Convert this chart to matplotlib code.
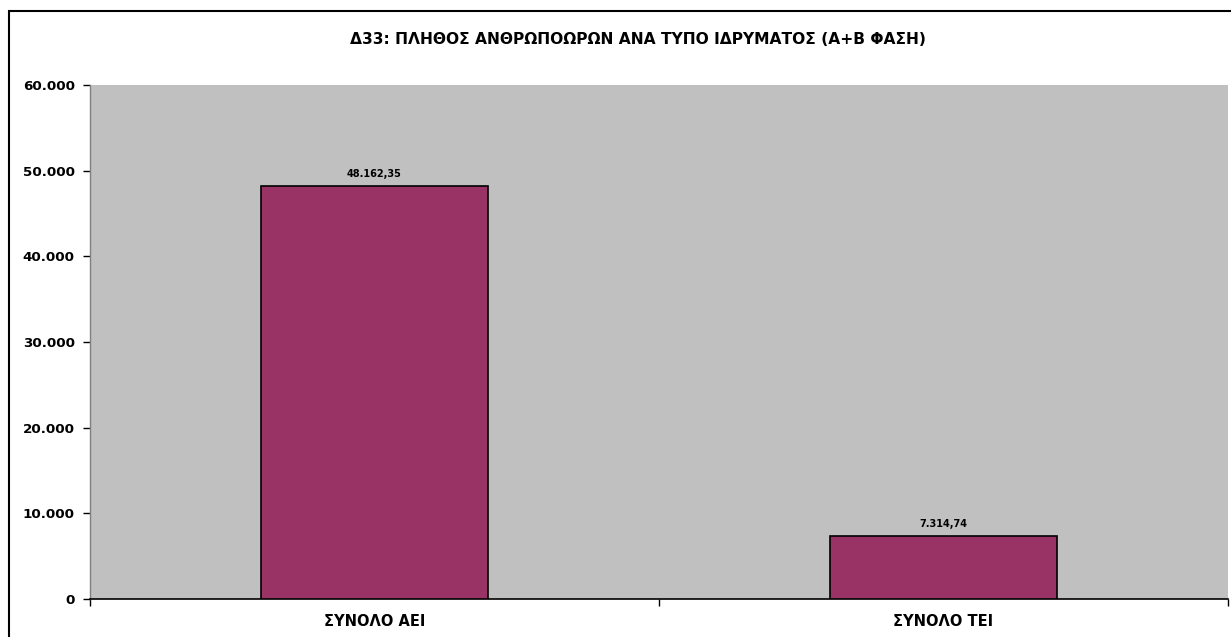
import matplotlib
matplotlib.use("Agg")
import matplotlib.pyplot as plt
from matplotlib.patches import Rectangle
from matplotlib.ticker import FuncFormatter, FixedLocator

categories = ["ΣΥΝΟΛΟ ΑΕΙ", "ΣΥΝΟΛΟ ΤΕΙ"]
values = [48162.35, 7314.74]
value_labels = ["48.162,35", "7.314,74"]
yticks = [0, 10000, 20000, 30000, 40000, 50000, 60000]
title = "Δ33: ΠΛΗΘΟΣ ΑΝΘΡΩΠΟΩΡΩΝ ΑΝΑ ΤΥΠΟ ΙΔΡΥΜΑΤΟΣ (Α+Β ΦΑΣΗ)"

plt.rcParams['font.family'] = ['DejaVu Sans']
plt.rcParams['font.weight'] = 'bold'

W, H = 1231, 637
fig = plt.figure(figsize=(W/100, H/100), dpi=100)
fig.patch.set_facecolor('white')

fig.patches.append(Rectangle((9/W, 1 - 700/H), (W+20)/W, (700-11)/H, transform=fig.transFigure,
                             fill=False, edgecolor='black', linewidth=1.5))

ax = fig.add_axes([90/W, 1 - 599/H, (1228-90)/W, (599-85)/H])
ax.set_facecolor('#C0C0C0')

x = list(range(len(categories)))
ax.bar(x, values, width=0.4, color='#993366', edgecolor='black', linewidth=1.2, zorder=3)
ax.set_xlim(-0.5, len(categories) - 0.5)
ax.set_ylim(0, 60000)

for xi, v, lab in zip(x, values, value_labels):
    ax.annotate(lab, (xi, v), xytext=(0, 5), textcoords='offset points',
                ha='center', va='bottom', fontsize=7, fontweight='bold')

ax.set_yticks(yticks)
ax.yaxis.set_major_formatter(FuncFormatter(lambda v, p: f"{int(v):,}".replace(",", ".")))
ax.tick_params(axis='y', direction='out', length=5, width=1, labelsize=9.7, pad=6)

ax.xaxis.set_major_locator(FixedLocator([-0.5, 0.5, 1.5]))
ax.xaxis.set_major_formatter(FuncFormatter(lambda v, p: ""))
ax.xaxis.set_minor_locator(FixedLocator(x))
ax.set_xticklabels(categories, minor=True)
ax.tick_params(axis='x', which='major', direction='out', length=5, width=1)
ax.tick_params(axis='x', which='minor', length=0, labelsize=10.5, pad=11)
for lab in ax.get_xticklabels(minor=True) + ax.get_yticklabels():
    lab.set_fontweight('bold')

for s in ['top', 'right']:
    ax.spines[s].set_visible(False)
ax.spines['left'].set_color('#808080')
ax.spines['left'].set_linewidth(1)
ax.spines['bottom'].set_color('black')
ax.spines['bottom'].set_linewidth(1.2)

fig.text(637.5 / W, 1 - 40/H, title, ha='center', va='center', fontsize=11.2, fontweight='bold')

fig.savefig("out.png", dpi=100)
